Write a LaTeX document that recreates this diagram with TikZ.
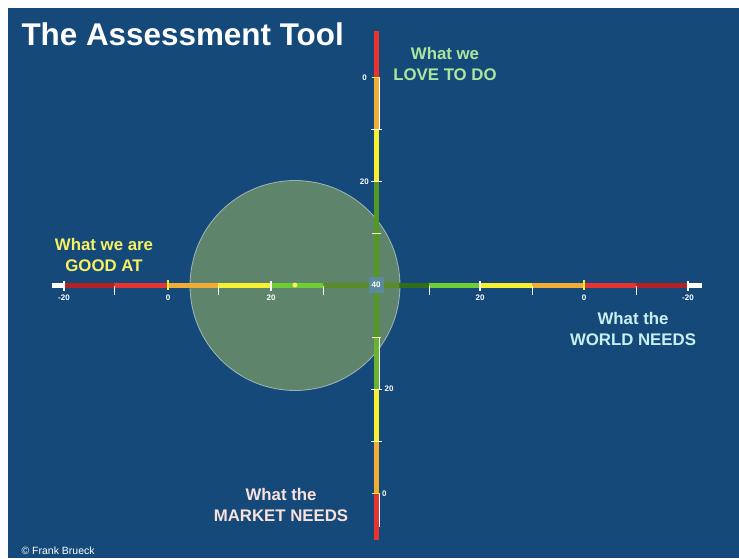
\documentclass[tikz,border=0pt]{standalone}
\usepackage{fontspec}
\setmainfont{Liberation Sans}
\usetikzlibrary{positioning}
\definecolor{nightblue}{RGB}{21,73,121}
\definecolor{darkred}{RGB}{178,34,34}
\definecolor{brightred}{RGB}{232,52,48}
\definecolor{amber}{RGB}{240,172,52}
\definecolor{lemon}{RGB}{250,240,50}
\definecolor{lightgreen}{RGB}{110,205,50}
\definecolor{deepgreen}{RGB}{48,108,26}
\definecolor{olivegreen}{RGB}{92,140,42}
\definecolor{vgreen}{RGB}{84,152,36}
\definecolor{vlight}{RGB}{104,180,44}
\definecolor{circlegreen}{RGB}{94,132,108}
\definecolor{labelbox}{RGB}{90,138,155}
\definecolor{lovecol}{RGB}{172,230,158}
\definecolor{goodcol}{RGB}{245,240,100}
\definecolor{worldcol}{RGB}{200,240,240}
\definecolor{marketcol}{RGB}{250,225,220}

\tikzset{
  bar/.style={line width=5pt},
  ticklbl/.style={text=white, font=\fontsize{8}{9}\selectfont\bfseries, inner sep=0pt},
  circlelbl/.style={font=\fontsize{16.8}{21}\selectfont\bfseries, align=center, inner sep=0pt},
}

\begin{document}
\begin{tikzpicture}[x=1pt, y=-1pt]
		\useasboundingbox (0,0) rectangle (739,558);

		% background
		\fill[nightblue] (8,8) rectangle (739,558);

		% overlap circle
		\fill[circlegreen] (295,285.5) circle (105);
		\draw[white, opacity=0.5, line width=0.8pt] (295,285.5) circle (105);

		% horizontal axis
		\draw[bar, white] (52,285.5) -- (702,285.5);
		\draw[bar, darkred] (64,285.5) -- (114,285.5);
		\draw[bar, brightred] (114,285.5) -- (168,285.5);
		\draw[bar, amber] (168,285.5) -- (218,285.5);
		\draw[bar, lemon] (218,285.5) -- (271,285.5);
		\draw[bar, lightgreen] (271,285.5) -- (323,285.5);
		\draw[bar, deepgreen] (323,285.5) -- (429,285.5);
		\draw[bar, lightgreen] (429,285.5) -- (480,285.5);
		\draw[bar, lemon] (480,285.5) -- (532,285.5);
		\draw[bar, amber] (532,285.5) -- (584,285.5);
		\draw[bar, brightred] (584,285.5) -- (636,285.5);
		\draw[bar, darkred] (636,285.5) -- (688,285.5);

		% deep green seen through the circle
		\begin{scope}
			\clip (295,285.5) circle (104.5);
			\draw[bar, olivegreen] (323,285.5) -- (429,285.5);
		\end{scope}

		% vertical axis
		\draw[bar, brightred] (376,31) -- (376,77.5);
		\draw[bar, amber] (376,77.5) -- (376,129.5);
		\draw[bar, lemon] (376,129.5) -- (376,181.5);
		\draw[bar, vgreen] (376,181.5) -- (376,337.5);
		\draw[bar, vlight] (376,337.5) -- (376,389.5);
		\draw[bar, lemon] (376,389.5) -- (376,441.5);
		\draw[bar, amber] (376,441.5) -- (376,493.5);
		\draw[bar, brightred] (376,493.5) -- (376,540);

		% thin side lines
		\draw[white, line width=0.8pt] (379,77.5) -- (379,129.5);
		\draw[white, line width=0.8pt] (379,337.5) -- (379,389.5);
		\draw[white, line width=0.8pt] (379,493.5) -- (379,527);

		% ticks on the horizontal axis
		\foreach \x in {64,271,480,688}
			\draw[white, line width=1.5pt] (\x,281) -- (\x,291);
		\foreach \x in {168,584}
			\draw[lemon, line width=1.5pt] (\x,280) -- (\x,290);
		\foreach \x in {114,218,323,429,532,636}
			\draw[white, line width=0.8pt] (\x,286) -- (\x,295);

		% ticks on the vertical axis
		\foreach \y in {129.5,181.5,389.5,441.5}
			\draw[white, line width=1.5pt] (371,\y) -- (382,\y);
		\foreach \y in {77.5,493.5}
			\draw[lemon, line width=1.5pt] (372,\y) -- (380,\y);
		\foreach \y in {233.5,337.5}
			\draw[white!70!lemon, line width=1.5pt] (372,\y) -- (381,\y);

		% scale labels
		\foreach \x/\t [count=\i] in {64/-20,168/0,271/20,480/20,584/0,688/-20}
			\node[ticklbl] (hlbl\i) at (\x,298) {\t};
		\node[ticklbl, anchor=east] (vlbl1) at (367,77.5) {0};
		\node[ticklbl, anchor=east] (vlbl2) at (369,182) {20};
		\node[ticklbl, anchor=west] (vlbl3) at (384.5,389) {20};
		\node[ticklbl, anchor=west] (vlbl4) at (382,494) {0};
		\node[ticklbl, fill=labelbox, minimum width=15pt, minimum height=16pt] (centre) at (376,285) {40};

		% centre of the circle
		\fill[goodcol] (295,285) circle (2.5);

		% title and credit
		\node[anchor=base west, text=white, font=\fontsize{31.4}{36}\selectfont\bfseries] (title) at (18,45) {The Assessment Tool};
		\node[anchor=base west, text=white, font=\fontsize{10.5}{12}\selectfont] (credit) at (18,554) {© Frank Brueck};

		% the four questions
		\node[circlelbl, text=lovecol] (love) at (445,63.5) {What we\\LOVE TO DO};
		\node[circlelbl, text=goodcol] (good) at (104,254.5) {What we are\\GOOD AT};
		\node[circlelbl, text=worldcol] (world) at (633,329) {What the\\WORLD NEEDS};
		\node[circlelbl, text=marketcol] (market) at (281,504.5) {What the\\MARKET NEEDS};

\end{tikzpicture}
\end{document}
